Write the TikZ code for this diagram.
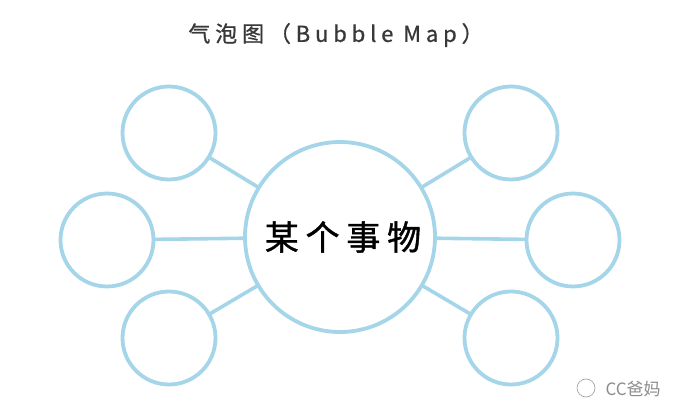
\documentclass[tikz,border=0pt]{standalone}
\usepackage{fontspec}
\newfontfamily\cjkspaced[LetterSpace=20,FakeBold=1.2]{Noto Sans CJK SC}
\newfontfamily\cjktitle[LetterSpace=22,FakeBold=0.8]{Noto Sans CJK SC}
\newfontfamily\cjkwm{Noto Sans CJK SC}
\begin{document}
\begin{tikzpicture}[x=1pt,y=-1pt,
  bub/.style={circle,draw=bblue,line width=3.8pt,fill=white,minimum size=#1,inner sep=0pt},
  link/.style={draw=bblue,line width=3.6pt}]
\definecolor{bblue}{RGB}{165,213,233}
\useasboundingbox (0,0) rectangle (680,419);
\fill[white] (0,0) rectangle (680,419);
\coordinate (c0) at (340,237);
\coordinate (p1) at (169,133);
\coordinate (p2) at (107,240);
\coordinate (p3) at (169,338);
\coordinate (p4) at (511,133);
\coordinate (p5) at (573,240);
\coordinate (p6) at (511,338);
\foreach \p in {p1,p2,p3,p4,p5,p6}{\draw[link] (c0) -- (\p);}
\node[bub=190pt] (main) at (c0) {};
\node[bub=93pt] (b1) at (p1) {};
\node[bub=93pt] (b2) at (p2) {};
\node[bub=93pt] (b3) at (p3) {};
\node[bub=93pt] (b4) at (p4) {};
\node[bub=93pt] (b5) at (p5) {};
\node[bub=93pt] (b6) at (p6) {};
\node[font=\cjkspaced\fontsize{34}{36}\selectfont,text=black] (mt) at (343,237) {某个事物};
\node[font=\cjktitle\fontsize{22}{26}\selectfont,text=black!78] (title) at (336,35) {气泡图（Bubble Map）};
\node[font=\cjkwm\fontsize{17}{20}\selectfont,text=black!45,anchor=west] (wm) at (602,389) {CC爸妈};
\draw[black!35,line width=0.7pt] (586,388) circle (9pt);
\end{tikzpicture}
\end{document}
